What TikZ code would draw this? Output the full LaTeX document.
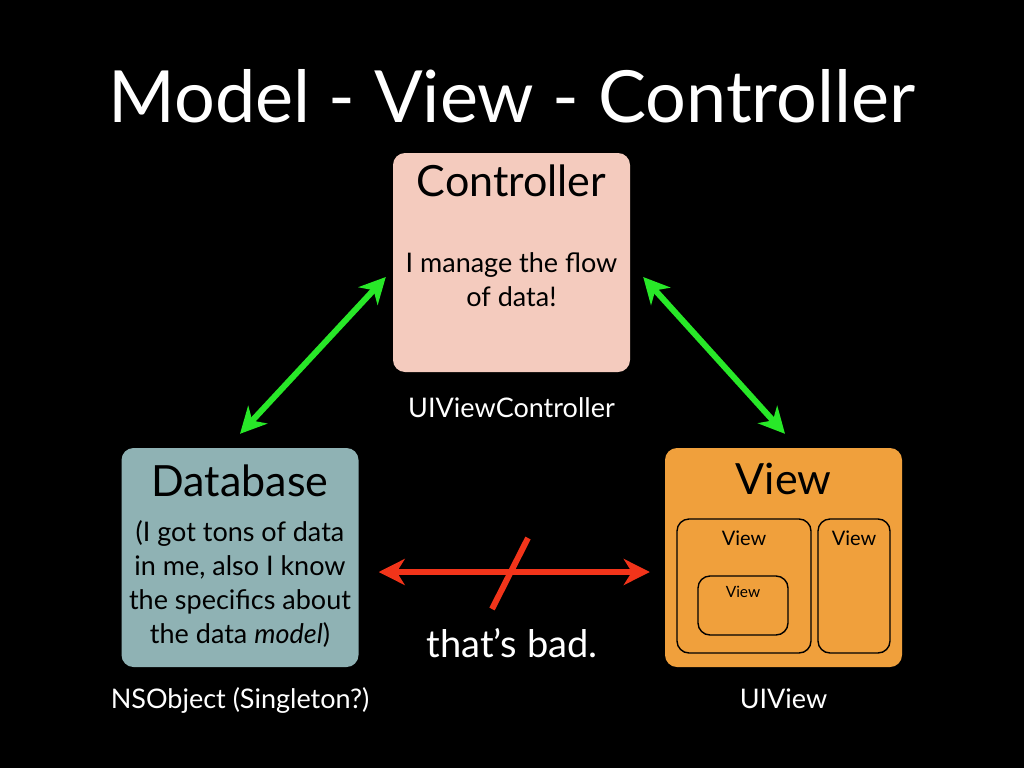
\documentclass[tikz,border=0pt]{standalone}
\usepackage{fontspec}
\setmainfont{Lato}
\usetikzlibrary{arrows.meta, positioning}

\definecolor{ctrlpink}{RGB}{244,203,190}
\definecolor{dbteal}{RGB}{143,178,180}
\definecolor{vieworange}{RGB}{240,160,60}
\definecolor{okgreen}{RGB}{40,232,40}
\definecolor{badred}{RGB}{242,52,26}

\begin{document}
\begin{tikzpicture}[x=1pt, y=-1pt, inner sep=0pt,
  bigtip/.tip={Stealth[length=26pt, width=26pt, inset=8pt]},
  box/.style={rounded corners=12pt, minimum width=237pt, minimum height=219pt},
  head/.style={font=\fontsize{43}{45}\selectfont, text=black},
  body/.style={align=center, text=black, font=\fontsize{27}{34}\selectfont},
  sub/.style={draw=black, line width=1.4pt, rounded corners=12pt},
  tag/.style={text=white, font=\fontsize{27}{29}\selectfont},
  good/.style={bigtip-bigtip, line width=6pt, draw=okgreen},
  bad/.style={bigtip-bigtip, line width=6pt, draw=badred}]
\fill[black] (0,0) rectangle (1024,768);
\useasboundingbox (0,0) rectangle (1024,768);

\node[text=white, font=\fontsize{72}{74}\selectfont, anchor=base] (title) at (512,122) {Model - View - Controller};

% the three boxes
\node[box, fill=ctrlpink] (ctrl) at (511.5,262.5) {};
\node[box, fill=dbteal] (db) at (240,557.5) {};
\node[box, fill=vieworange] (view) at (783.5,557.5) {};

\node[head, below=44pt of ctrl.north, anchor=base] (ctrlhead) {Controller};
\node[body, below=110pt of ctrlhead.base, anchor=base] (ctrlbody) {I manage the flow\\of data!};
\node[head, below=49pt of db.north, anchor=base] (dbhead) {Database};
\node[body, below=147pt of dbhead.base, anchor=base] (dbbody)
  {(I got tons of data\\in me, also I know\\the specifics about\\the data \textit{model})};
\node[head, below=47pt of view.north, anchor=base] (viewhead) {View};

% nested views
\node[sub, minimum width=134pt, minimum height=134pt] (vbig) at (744,586) {};
\node[sub, minimum width=72pt, minimum height=134pt] (vside) at (854,586) {};
\node[sub, minimum width=90pt, minimum height=59pt] (vsmall) at (743,605.5) {};
\node[font=\fontsize{20}{22}\selectfont, below=27pt of vbig.north, anchor=base] {View};
\node[font=\fontsize{20}{22}\selectfont, below=27pt of vside.north, anchor=base] {View};
\node[font=\fontsize{15.5}{17}\selectfont, below=22pt of vsmall.north, anchor=base] {View};

% class names
\node[tag, below=45pt of ctrl.south, anchor=base] (ctrltag) {UIViewController};
\node[tag, below=41pt of db.south, anchor=base] (dbtag) {NSObject (Singleton?)};
\node[tag, below=41pt of view.south, anchor=base] (viewtag) {UIView};

% connections
\draw[good] ([yshift=14pt]db.north) -- ([xshift=-7pt, yshift=-14.5pt]ctrl.west);
\draw[good] ([xshift=13pt, yshift=-14.5pt]ctrl.east) -- ([xshift=1.5pt, yshift=14pt]view.north);
\draw[bad] ([xshift=20pt, yshift=-14.5pt]db.east) -- ([xshift=-15pt, yshift=-14.5pt]view.west);
\coordinate (slashtop) at (528,538);
\coordinate (slashbot) at (492,609);
\draw[badred, line width=6pt] (slashtop) -- (slashbot);
\node[text=white, font=\fontsize{38}{40}\selectfont, anchor=base] (badnote) at (512,657) {that’s bad.};
\end{tikzpicture}
\end{document}
